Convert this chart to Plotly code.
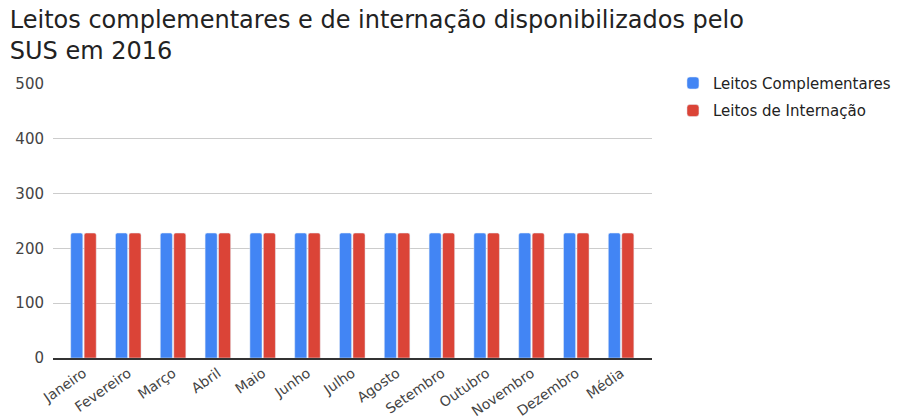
import plotly.graph_objects as go

meses = ['Janeiro', 'Fevereiro', 'Março', 'Abril', 'Maio', 'Junho', 'Julho',
         'Agosto', 'Setembro', 'Outubro', 'Novembro', 'Dezembro', 'Média']
leitos_complementares = [228, 228, 228, 228, 228, 228, 228, 228, 228, 228, 228, 228, 228]
leitos_internacao = [228, 228, 228, 228, 228, 228, 228, 228, 228, 228, 228, 228, 228]

fig = go.Figure()
fig.add_trace(go.Bar(x=meses, y=leitos_complementares, name='Leitos Complementares',
                     marker_color='#4285f4', legendgroup='a'))
fig.add_trace(go.Bar(x=meses, y=leitos_internacao, name='Leitos de Internação',
                     marker_color='#db4437', legendgroup='b'))

# page body has an 8px margin, so the figure is a bit smaller than the window
fig.update_layout(
    width=913, height=409,
    font=dict(family='DejaVu Sans', color='#444'),
    title=dict(text='Leitos complementares e de internação disponibilizados pelo<br>SUS em 2016',
               x=0.002, xanchor='left', y=0.951, yanchor='top',
               font=dict(size=24, color='#222')),
    margin=dict(l=45, r=269, t=76, b=59),
    barmode='group', bargap=0.4, bargroupgap=0.1, barcornerradius=2,
    plot_bgcolor='white', paper_bgcolor='white',
    legend=dict(x=1.035, y=1.063, xanchor='left', yanchor='top',
                font=dict(size=15, color='#222'), tracegroupgap=5,
                traceorder='grouped'),
    showlegend=True,
)
fig.update_xaxes(tickangle=-35, tickfont=dict(size=14, color='#444'), automargin=False,
                 range=[-0.68, 12.69],
                 showline=True, linecolor='#333', linewidth=1.5, ticks='')
fig.update_yaxes(range=[0, 500], dtick=100, gridcolor='#ccc', automargin=False,
                 tickfont=dict(size=15, color='#444'), zeroline=False,
                 ticklabelstandoff=8)

fig.write_html('out.html')
